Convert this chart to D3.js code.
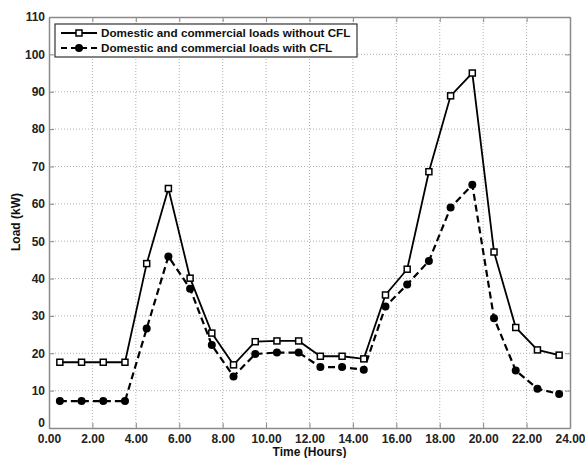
<!DOCTYPE html>
<html><head><meta charset="utf-8">
<script src="https://cdn.jsdelivr.net/npm/d3@7"></script>
<style>
body{margin:0;background:#fff;}
text{font-family:"Liberation Sans",Arial,sans-serif;font-weight:bold;}
</style></head>
<body><svg id="c" width="585" height="458"></svg>
<script>
const hours = [0.5,1.5,2.5,3.5,4.5,5.5,6.5,7.5,8.5,9.5,10.5,11.5,12.5,13.5,14.5,15.5,16.5,17.5,18.5,19.5,20.5,21.5,22.5,23.5];
const withoutCFL = [17.6,17.6,17.6,17.6,44.0,64.1,40.1,25.4,16.9,23.1,23.3,23.3,19.2,19.2,18.5,35.6,42.5,68.6,88.9,95.0,47.1,26.9,20.9,19.5];
const withCFL = [7.2,7.2,7.2,7.2,26.6,45.9,37.3,22.2,13.8,19.8,20.2,20.2,16.3,16.3,15.6,32.5,38.4,44.7,59.0,65.1,29.4,15.4,10.5,9.1];
const xTicks = [0,2,4,6,8,10,12,14,16,18,20,22,24];
const yTicks = [0,10,20,30,40,50,60,70,80,90,100,110];
const seriesNames = ["Domestic and commercial loads without CFL","Domestic and commercial loads with CFL"];

const svg = d3.select("#c");
const L=49,R=570,T=17,B=428;
const x = d3.scaleLinear().domain([0,24]).range([L,R]);
const y = d3.scaleLinear().domain([0,110]).range([B,T]);
const frame="#8a8a8a";

// grid
const g = svg.append("g");
g.selectAll(".gx").data(xTicks.slice(1,-1)).enter().append("line")
 .attr("x1",d=>x(d)).attr("x2",d=>x(d)).attr("y1",T).attr("y2",B)
 .attr("stroke","#b0b0b0").attr("stroke-width",1).attr("stroke-dasharray","1,2");
g.selectAll(".gy").data(yTicks.slice(1,-1)).enter().append("line")
 .attr("y1",d=>y(d)).attr("y2",d=>y(d)).attr("x1",L).attr("x2",R)
 .attr("stroke","#b0b0b0").attr("stroke-width",1).attr("stroke-dasharray","1,2");

// axes
const fmt = d3.format(".2f");
const xAx = svg.append("g").attr("transform",`translate(0,${B})`)
 .call(d3.axisBottom(x).tickValues(xTicks).tickFormat(fmt).tickSizeInner(-5).tickSizeOuter(0).tickPadding(6));
const xAxT = svg.append("g").attr("transform",`translate(0,${T})`)
 .call(d3.axisTop(x).tickValues(xTicks).tickFormat("").tickSizeInner(-5).tickSizeOuter(0));
const yAx = svg.append("g").attr("transform",`translate(${L},0)`)
 .call(d3.axisLeft(y).tickValues(yTicks).tickSizeInner(-5).tickSizeOuter(0).tickPadding(4));
const yAxR = svg.append("g").attr("transform",`translate(${R},0)`)
 .call(d3.axisRight(y).tickValues(yTicks).tickFormat("").tickSizeInner(-5).tickSizeOuter(0));
[xAx,xAxT,yAx,yAxR].forEach(a=>{
  a.selectAll("path").attr("stroke",frame).attr("stroke-width",1.5);
  a.selectAll("line").attr("stroke",frame);
  a.selectAll("text").attr("fill","#222").style("font-size","12px").style("font-weight","bold").style("font-family","Liberation Sans, Arial, sans-serif");
});
yAx.selectAll(".tick").filter(d=>d===0).select("text").attr("dy","-0.15em");

// lines
const line = d3.line().x((d,i)=>x(hours[i])).y(d=>y(d));
svg.append("path").datum(withCFL).attr("d",line).attr("fill","none")
 .attr("stroke","#000").attr("stroke-width",2.2).attr("stroke-dasharray","7,4");
svg.append("path").datum(withoutCFL).attr("d",line).attr("fill","none")
 .attr("stroke","#000").attr("stroke-width",1.8);
svg.selectAll(".p2").data(withCFL).enter().append("circle")
 .attr("cx",(d,i)=>x(hours[i])).attr("cy",d=>y(d)).attr("r",4).attr("fill","#000");
svg.selectAll(".p1").data(withoutCFL).enter().append("rect")
 .attr("x",(d,i)=>x(hours[i])-3).attr("y",d=>y(d)-3).attr("width",6).attr("height",6)
 .attr("fill","#fff").attr("stroke","#000").attr("stroke-width",1.5);

// legend
const lg = svg.append("g");
lg.append("rect").attr("x",55).attr("y",24).attr("width",302).attr("height",33)
 .attr("fill","#fff").attr("stroke","#333").attr("stroke-width",1.2);
lg.append("line").attr("x1",61).attr("x2",97).attr("y1",33).attr("y2",33).attr("stroke","#000").attr("stroke-width",1.8);
lg.append("rect").attr("x",76).attr("y",30).attr("width",6).attr("height",6).attr("fill","#fff").attr("stroke","#000").attr("stroke-width",1.5);
lg.append("line").attr("x1",61).attr("x2",97).attr("y1",48).attr("y2",48).attr("stroke","#000").attr("stroke-width",2.2).attr("stroke-dasharray","6,4");
lg.append("circle").attr("cx",79).attr("cy",48).attr("r",4).attr("fill","#000");
lg.selectAll("text").data(seriesNames).enter().append("text")
 .attr("x",101).attr("y",(d,i)=>37+i*15).attr("fill","#111").style("font-size","11.7px").text(d=>d);

// axis labels
svg.append("text").attr("x",(L+R)/2).attr("y",456).attr("text-anchor","middle").attr("fill","#111").style("font-size","12px").text("Time (Hours)");
svg.append("text").attr("transform","translate(20,222) rotate(-90)").attr("text-anchor","middle").attr("fill","#111").style("font-size","12px").text("Load (kW)");
</script></body></html>
